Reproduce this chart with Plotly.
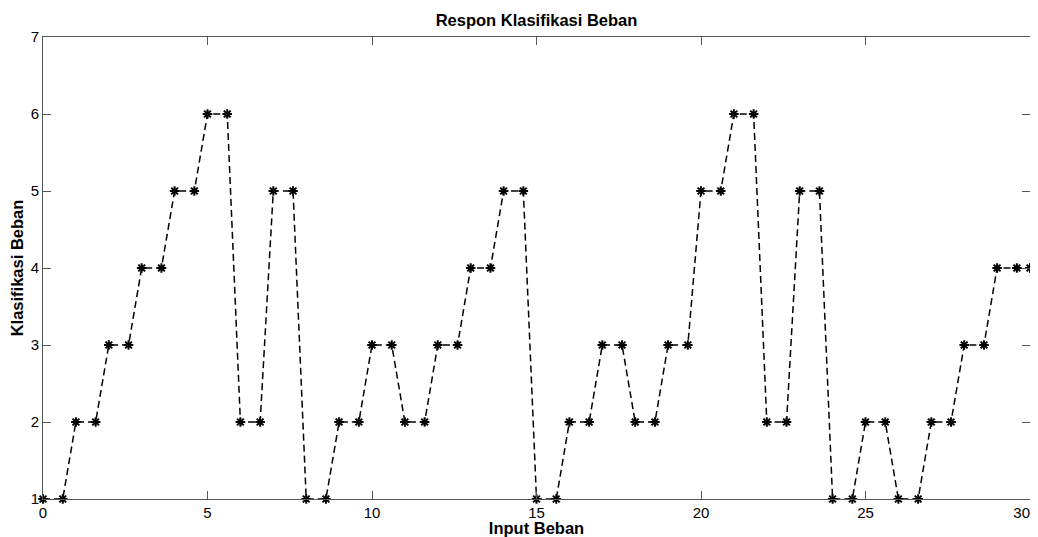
import plotly.graph_objects as go

x_vals = [0, 0.6, 1, 1.6, 2, 2.6, 3, 3.6, 4, 4.6, 5, 5.6, 6, 6.6, 7, 7.6, 8, 8.6, 9, 9.6,
          10, 10.6, 11, 11.6, 12, 12.6, 13, 13.6, 14, 14.6, 15, 15.6, 16, 16.6, 17, 17.6,
          18, 18.6, 19, 19.6, 20, 20.6, 21, 21.6, 22, 22.6, 23, 23.6, 24, 24.6, 25, 25.6,
          26, 26.6, 27, 27.6, 28, 28.6, 29, 29.6, 30]
y_vals = [1, 1, 2, 2, 3, 3, 4, 4, 5, 5, 6, 6, 2, 2, 5, 5, 1, 1, 2, 2,
          3, 3, 2, 2, 3, 3, 4, 4, 5, 5, 1, 1, 2, 2, 3, 3,
          2, 2, 3, 3, 5, 5, 6, 6, 2, 2, 5, 5, 1, 1, 2, 2,
          1, 1, 2, 2, 3, 3, 4, 4, 4]
x_ticks = [0, 5, 10, 15, 20, 25, 30]
y_ticks = [1, 2, 3, 4, 5, 6, 7]

FONT = "Liberation Sans, Arial"
W, H = 1030, 529

# last label padded so it is not clipped at the right edge of the page
x_ticktext = [str(v) for v in x_ticks]
x_ticktext[-1] = x_ticktext[-1] + "\u00a0" * 4

fig = go.Figure()
fig.add_trace(go.Scatter(
    x=x_vals, y=y_vals, mode="lines+markers",
    line=dict(color="black", width=1.5, dash="7px,4px"),
    marker=dict(symbol="asterisk-open", size=8, color="black",
                line=dict(color="black", width=2)),
    cliponaxis=False,
))

axis_common = dict(showline=True, linecolor="#555", linewidth=1, mirror="ticks",
                   ticks="inside", ticklen=8, tickcolor="#555", showgrid=False,
                   zeroline=False, automargin=False, ticklabeloverflow="allow",
                   tickfont=dict(family=FONT, size=15, color="black"))
fig.update_xaxes(range=[0, 30], tickvals=x_ticks, ticktext=x_ticktext, **axis_common,
                 title=dict(text="<b>Input Beban</b>", standoff=4,
                            font=dict(family=FONT, size=16.5, color="black")))
fig.update_yaxes(range=[1, 7], tickvals=y_ticks, **axis_common,
                 title=dict(text="<b>Klasifikasi Beban</b>", standoff=6,
                            font=dict(family=FONT, size=16.5, color="black")))

fig.update_layout(
    width=W, height=H,
    margin=dict(l=35, r=8, t=29, b=38, autoexpand=False),
    paper_bgcolor="white", plot_bgcolor="white",
    showlegend=False,
    title=dict(text="<b>Respon Klasifikasi Beban</b>", x=(35 + 1022) / 2 / W, xanchor="center",
               y=1 - 12 / H, yanchor="middle",
               font=dict(family=FONT, size=16.5, color="black")),
)

fig.write_html("out.html")
